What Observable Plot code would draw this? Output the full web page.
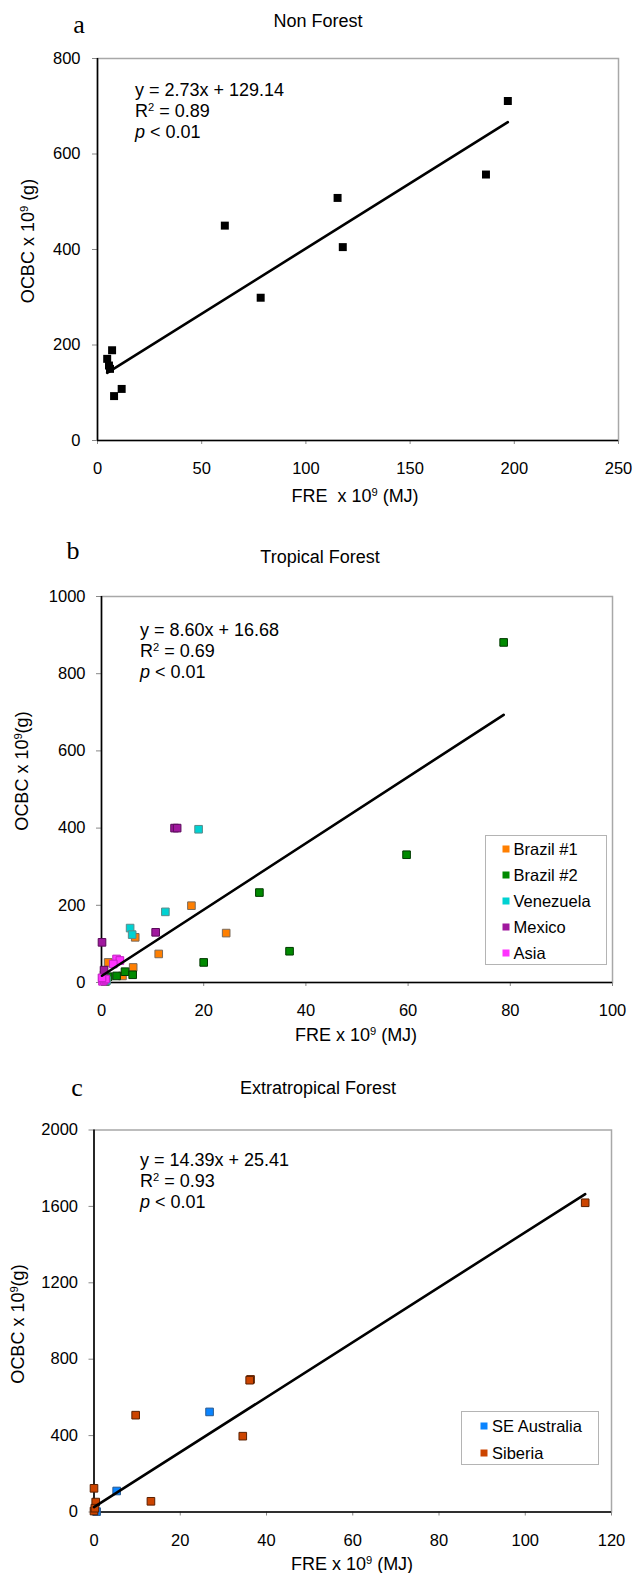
<!DOCTYPE html>
<html>
<head>
<meta charset="utf-8">
<script src="https://cdn.jsdelivr.net/npm/d3@7"></script>
<script src="https://cdn.jsdelivr.net/npm/@observablehq/plot@0.6"></script>
<style>
  body { margin: 0; background: #fff; font-family: "Liberation Sans", Arial, sans-serif; }
  #root { position: relative; width: 635px; height: 1573px; overflow: hidden; background: #fff; }
  .abs { position: absolute; white-space: nowrap; color: #000; }
  .c50 { transform: translate(-50%, -50%); }
  .letter { font-family: "Liberation Serif", "Times New Roman", serif; font-size: 26px; }
  .title { font-size: 18px; }
  .axt { font-size: 18px; }
  .yt { font-size: 18px; transform: translate(-50%, -50%) rotate(-90deg); }
  .eq { font-size: 18px; line-height: 21px; }
  .legend { position: absolute; border: 1px solid #b4b4b4; background: #fff; box-sizing: border-box; }
  .li { position: absolute; font-size: 16.5px; white-space: nowrap; transform: translateY(-50%); }
  .sw { position: absolute; width: 7px; height: 7px; transform: translate(-50%, -50%); }
  sup { font-size: 0.62em; vertical-align: 0.5em; line-height: 0; }
</style>
</head>
<body>
<div id="root"></div>
<script>
// ---------------- DATA ----------------
const panelLetters = ["a", "b", "c"];
const panelTitles = ["Non Forest", "Tropical Forest", "Extratropical Forest"];
const fitSlopes = [2.73, 8.60, 14.39];
const fitIntercepts = [129.14, 16.68, 25.41];
const fitR2 = ["0.89", "0.69", "0.93"];

// (a) Non Forest
const nonForestX = [4.65, 5.5, 6.0, 7.0, 7.95, 11.6, 61.1, 78.3, 115.2, 117.7, 186.4, 196.9];
const nonForestY = [171, 157, 150, 189, 93, 108, 450, 299, 508, 405, 557, 711];

// (b) Tropical Forest
const tropicalSeries = ["Brazil #1", "Brazil #2", "Venezuela", "Mexico", "Asia"];
const brazil1X = [17.6, 24.4, 11.2, 6.6, 1.3, 6.2, 4.1, 0.5];
const brazil1Y = [199, 128, 74, 117, 52, 39, 17, 20];
const brazil2X = [78.7, 59.7, 30.9, 36.8, 20.0, 4.6, 2.95, 6.1, 1.3, 0.8];
const brazil2Y = [881, 331, 233, 81, 52, 28, 17, 20, 15, 3];
const venezuelaX = [19.0, 12.5, 5.6, 6.0, 0.3, 1.0];
const venezuelaY = [397, 183, 141, 124, 10, 5];
const mexicoX = [14.3, 14.8, 10.6, 0.1, 0.5];
const mexicoY = [400, 400, 130, 104, 32];
const asiaX = [2.95, 3.6, 2.3, 0.2, 0.5, 0.8, 0.1];
const asiaY = [61, 57, 48, 3, 6, 9, 12];

// (c) Extratropical Forest
const extratropicalSeries = ["SE Australia", "Siberia"];
const seAustraliaX = [26.8, 5.26, 0.6];
const seAustraliaY = [524, 110, 2];
const siberiaX = [113.9, 36.3, 36.1, 9.66, 34.5, 13.2, 0, 0.4, 0, 0.2];
const siberiaY = [1619, 694, 690, 507, 397, 56, 124, 52, 5, 20];

// tick values
const xTicksA = [0, 50, 100, 150, 200, 250];
const yTicksA = [0, 200, 400, 600, 800];
const xTicksB = [0, 20, 40, 60, 80, 100];
const yTicksB = [0, 200, 400, 600, 800, 1000];
const xTicksC = [0, 20, 40, 60, 80, 100, 120];
const yTicksC = [0, 400, 800, 1200, 1600, 2000];

// ---------------- STYLE / LAYOUT ----------------
const tropicalFill = ["#ff7f00", "#008a00", "#00d2d2", "#a0189e", "#ff33ff"];
const tropicalStroke = ["#7a6a5a", "#003a00", "#5a8a8a", "#5a0a5a", "#c020c0"];
const extraFill = ["#0a84ff", "#cc4400"];
const extraStroke = ["#2a5a90", "#5a2000"];
const FONT = "Liberation Sans, Arial, sans-serif";

const root = document.getElementById("root");
function addDiv(cls, html, style) {
  const d = document.createElement("div");
  d.className = cls;
  d.innerHTML = html;
  Object.assign(d.style, style);
  root.appendChild(d);
  return d;
}
function rows(xs, ys) { return xs.map((x, i) => ({x, y: ys[i]})); }
function fitLine(k, xs) {
  const x0 = d3.min(xs), x1 = d3.max(xs);
  return [x0, x1].map(x => ({x, y: fitSlopes[k] * x + fitIntercepts[k]}));
}

function makePanel(cfg) {
  const marks = [
    Plot.frame({stroke: "#a8a8a8", strokeWidth: 1.5}),
    Plot.axisX({ticks: cfg.xTicks, tickFormat: d => String(d), tickSize: 4, tickPadding: cfg.xPad,
      stroke: "#888", fill: "#000", fontSize: 16.5, label: null}),
    Plot.axisY({ticks: cfg.yTicks, tickFormat: d => String(d), tickSize: 5, tickPadding: cfg.yPad,
      stroke: "#888", fill: "#000", fontSize: 16.5, label: null}),
    Plot.ruleX([0], {stroke: "#000", strokeWidth: 1.6}),
    Plot.ruleY([0], {stroke: "#000", strokeWidth: 1.6}),
    ...cfg.series.map(s => Plot.dot(rows(s.xs, s.ys), {x: "x", y: "y", symbol: "square", r: s.r,
      fill: s.fill, stroke: s.stroke, strokeWidth: s.stroke === "none" ? 0 : 1})),
    Plot.line(fitLine(cfg.k, cfg.series.flatMap(s => s.xs)), {x: "x", y: "y", stroke: "#000", strokeWidth: 2.6})
  ];
  const svg = Plot.plot({
    width: 635, height: cfg.height,
    marginTop: cfg.mt, marginBottom: cfg.mb, marginLeft: cfg.ml, marginRight: cfg.mr,
    x: {domain: cfg.xDomain}, y: {domain: cfg.yDomain},
    style: {fontFamily: FONT, fontSize: "16.5px", color: "#000", background: "#fff", overflow: "visible"},
    marks
  });
  const wrap = document.createElement("div");
  Object.assign(wrap.style, {position: "absolute", left: "0px", top: cfg.top + "px"});
  wrap.appendChild(svg);
  root.appendChild(wrap);
}

// Panel a
makePanel({k: 0, top: 0, height: 500, mt: 58, mb: 60, ml: 97, mr: 17, xPad: 18, yPad: 12,
  xDomain: [0, 250], yDomain: [0, 800], xTicks: xTicksA, yTicks: yTicksA,
  series: [{xs: nonForestX, ys: nonForestY, fill: "#000", stroke: "none", r: 4.5}]});
// Panel b
const tropX = [brazil1X, brazil2X, venezuelaX, mexicoX, asiaX];
const tropY = [brazil1Y, brazil2Y, venezuelaY, mexicoY, asiaY];
makePanel({k: 1, top: 500, height: 520, mt: 96, mb: 38, ml: 101, mr: 23, xPad: 18, yPad: 11,
  xDomain: [0, 100], yDomain: [0, 1000], xTicks: xTicksB, yTicks: yTicksB,
  series: tropicalSeries.map((n, i) => ({xs: tropX[i], ys: tropY[i], fill: tropicalFill[i], stroke: tropicalStroke[i], r: 4.3}))});
// Panel c
const extX = [seAustraliaX, siberiaX];
const extY = [seAustraliaY, siberiaY];
makePanel({k: 2, top: 1040, height: 533, mt: 89.5, mb: 61.5, ml: 93.5, mr: 24, xPad: 18, yPad: 11,
  xDomain: [0, 120], yDomain: [0, 2000], xTicks: xTicksC, yTicks: yTicksC,
  series: extratropicalSeries.map((n, i) => ({xs: extX[i], ys: extY[i], fill: extraFill[i], stroke: extraStroke[i], r: 4.3}))});

// ---------------- TEXT OVERLAYS ----------------
const letterPos = [[79, 25], [73, 551], [77, 1088]];
const titlePos = [[318, 21], [320, 557], [318, 1088]];
const eqPos = [[135, 79.5], [140, 620], [140, 1150]];
const xTitlePos = [[355, 496], [356, 1035], [352, 1564]];
const yTitlePos = [[28, 241], [22, 771], [18, 1324]];
const xTitles = ["FRE&nbsp; x 10<sup>9</sup> (MJ)", "FRE x 10<sup>9</sup> (MJ)", "FRE x 10<sup>9</sup> (MJ)"];
const yTitles = ["OCBC x 10<sup>9</sup> (g)", "OCBC x 10<sup>9</sup>(g)", "OCBC x 10<sup>9</sup>(g)"];

for (let k = 0; k < 3; k++) {
  addDiv("abs c50 letter", panelLetters[k], {left: letterPos[k][0] + "px", top: letterPos[k][1] + "px"});
  addDiv("abs c50 title", panelTitles[k], {left: titlePos[k][0] + "px", top: titlePos[k][1] + "px"});
  addDiv("abs eq",
    `y = ${fitSlopes[k].toFixed(2)}x + ${fitIntercepts[k].toFixed(2)}<br>R<sup>2</sup> = ${fitR2[k]}<br><i>p</i> &lt; 0.01`,
    {left: eqPos[k][0] + "px", top: eqPos[k][1] + "px"});
  addDiv("abs c50 axt", xTitles[k], {left: xTitlePos[k][0] + "px", top: xTitlePos[k][1] + "px"});
  addDiv("abs yt", yTitles[k], {left: yTitlePos[k][0] + "px", top: yTitlePos[k][1] + "px"});
}

// legends
function legend(names, fills, box, itemY, swX, txX) {
  const lg = document.createElement("div");
  lg.className = "legend";
  Object.assign(lg.style, {left: box[0] + "px", top: box[1] + "px", width: box[2] + "px", height: box[3] + "px"});
  names.forEach((n, i) => {
    const sw = document.createElement("div");
    sw.className = "sw";
    Object.assign(sw.style, {left: swX + "px", top: itemY[i] + "px", background: fills[i]});
    lg.appendChild(sw);
    const t = document.createElement("div");
    t.className = "li";
    t.textContent = n;
    Object.assign(t.style, {left: txX + "px", top: itemY[i] + "px"});
    lg.appendChild(t);
  });
  root.appendChild(lg);
}
legend(tropicalSeries, tropicalFill, [484.5, 834.5, 122.5, 130.5], [13.5, 39.5, 65.5, 91.5, 117.5], 20.5, 28);
legend(extratropicalSeries, extraFill, [461, 1411, 138, 53.5], [14, 40.5], 22, 30);
</script>
</body>
</html>
